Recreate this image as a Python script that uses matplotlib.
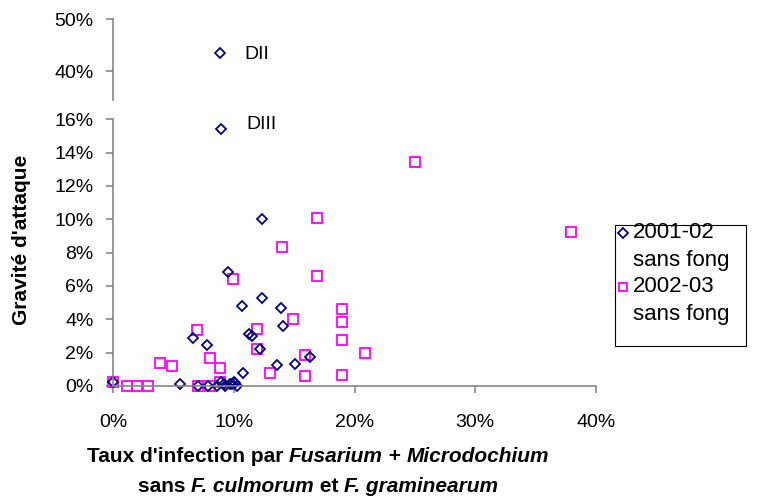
import matplotlib
matplotlib.use("Agg")
import matplotlib.pyplot as plt
from matplotlib.lines import Line2D
from matplotlib.patches import Rectangle
from matplotlib.ticker import PercentFormatter

plt.rcParams["font.family"] = ["Liberation Sans", "DejaVu Sans"]

# 2001-02 sans fong (x = taux d'infection, y = gravite d'attaque), in %
x_2001 = [0.0, 5.55, 6.6, 7.76, 7.0, 7.9, 8.6, 8.95, 8.95, 9.2, 9.3, 9.55, 9.7,
          9.83, 10.0, 10.1, 10.25, 10.7, 10.8, 11.27, 11.55, 12.18, 12.3, 12.3,
          13.6, 13.9, 14.06, 15.1, 16.3, 8.9]
y_2001 = [0.24, 0.1, 2.85, 2.44, 0.0, 0.0, 0.0, 15.4, 0.24, 0.1, 0.0, 6.83, 0.1,
          0.1, 0.24, 0.15, 0.0, 4.8, 0.75, 3.09, 3.0, 2.24, 10.0, 5.3,
          1.24, 4.7, 3.58, 1.34, 1.74, 43.5]

# 2002-03 sans fong
x_2002 = [0.0, 1.2, 2.0, 2.9, 3.9, 4.9, 6.93, 7.0, 8.0, 8.0, 8.9, 8.9, 9.9,
          11.96, 11.96, 12.98, 14.0, 14.9, 15.9, 15.9, 16.93, 16.93, 19.0, 19.0,
          19.0, 19.0, 20.9, 25.0, 37.9]
y_2002 = [0.24, 0.0, 0.0, 0.0, 1.38, 1.18, 3.35, 0.0, 1.7, 0.0, 1.08, 0.24, 6.39,
          3.43, 2.19, 0.78, 8.33, 4.03, 1.88, 0.58, 10.05, 6.59, 4.63, 3.83,
          2.73, 0.68, 2.0, 13.42, 9.23]

# labelled outliers
labels = ["DII", "DIII"]
label_x = [8.9, 8.95]
label_y = [43.5, 15.4]
label_off = [(17.5, -1.0), (18.5, 3.5)]

series_names = ["2001-02", "2002-03"]

W, H = 759, 500
fig = plt.figure(figsize=(W / 100, H / 100), dpi=100)

grey = "#868686"
navy = "#000080"
pink = "#FF00FF"
fs = 14

x0, x1 = 113, 596
ax = fig.add_axes([x0 / W, 1 - 386 / H, (x1 - x0) / W, (386 - 119.3) / H])
axt = fig.add_axes([x0 / W, 1 - 100 / H, (x1 - x0) / W, 81 / H])

low_lim = 16
top_lo = 50 - 81 / 52 * 10

for a in (ax, axt):
    for s in ("top", "right"):
        a.spines[s].set_visible(False)
    a.spines["left"].set_color(grey)
    a.spines["left"].set_linewidth(1.2)
    a.tick_params(axis="y", colors=grey, length=5, width=1.2, pad=9,
                  labelcolor="black", labelsize=fs)
    a.set_xlim(0, 40)

ax.spines["bottom"].set_color(grey)
ax.spines["bottom"].set_linewidth(1.2)
ax.tick_params(axis="x", colors=grey, length=5, width=1.2, pad=15,
               labelcolor="black", labelsize=fs)
ax.set_ylim(0, low_lim)
ax.set_yticks(range(0, 17, 2))
ax.set_xticks([0, 10, 20, 30, 40])
ax.xaxis.set_major_formatter(PercentFormatter(decimals=0))
ax.yaxis.set_major_formatter(PercentFormatter(decimals=0))

axt.spines["bottom"].set_visible(False)
axt.set_xticks([])
axt.set_ylim(top_lo, 50)
axt.set_yticks([40, 50])
axt.yaxis.set_major_formatter(PercentFormatter(decimals=0))
axt.patch.set_visible(False)

sq = dict(marker="s", ms=6.6, mfc="none", mec=pink, mew=1.3, ls="none", clip_on=False)
dm = dict(marker="D", ms=5.0, mfc="none", mec=navy, mew=1.3, ls="none", clip_on=False)

lx = [x for x, y in zip(x_2001, y_2001) if y <= low_lim]
ly = [y for y in y_2001 if y <= low_lim]
hx = [x for x, y in zip(x_2001, y_2001) if y > low_lim]
hy = [y for y in y_2001 if y > low_lim]

ax.plot(x_2002, y_2002, **sq)
ax.plot(lx, ly, **dm)
axt.plot(hx, hy, **dm)

for lab, x, y, off in zip(labels, label_x, label_y, label_off):
    a = axt if y > low_lim else ax
    a.annotate(lab, (x, y), xytext=off, textcoords="offset points",
               fontsize=fs, va="center", ha="left", annotation_clip=False)

fig.text(22 / W, 1 - 240 / H, "Gravité d'attaque", rotation=90, fontsize=15,
         fontweight="bold", ha="center", va="center")

# x label, mixed bold / bold italic
renderer = fig.canvas.get_renderer()


def rich_line(parts, cx, cy, size=15):
    texts = []
    total = 0
    for s, it in parts:
        t = fig.text(0, cy, s, fontsize=size, fontweight="bold",
                     style="italic" if it else "normal", va="center", ha="left")
        w = t.get_window_extent(renderer).width
        texts.append((t, w))
        total += w
    x = cx * W - total / 2
    for t, w in texts:
        t.set_x(x / W)
        x += w


rich_line([("Taux d'infection par ", False), ("Fusarium", True), (" + ", False),
           ("Microdochium", True)], 318 / W, 1 - 457 / H)
rich_line([("sans ", False), ("F. culmorum", True), (" et ", False),
           ("F. graminearum", True)], 318 / W, 1 - 487 / H)

# legend box drawn by hand (two-line entries, marker on first line)
fig.add_artist(Rectangle((615 / W, 1 - 346 / H), 131 / W, 121 / H,
                         transform=fig.transFigure, fill=False,
                         edgecolor="black", linewidth=0.8))
for name, style, row in zip(series_names, (dm, sq), (233, 287)):
    mk = {k: v for k, v in style.items() if k != "clip_on"}
    if mk["marker"] == "s":
        mk["ms"] = 5.5
    else:
        mk["ms"] = 4.6
    fig.add_artist(Line2D([623 / W], [1 - row / H], transform=fig.transFigure, **mk))
    fig.text(633 / W, 1 - row / H, name, fontsize=16, va="center", ha="left")
    fig.text(633 / W, 1 - (row + 27.5) / H, "sans fong", fontsize=16,
             va="center", ha="left")

fig.savefig("out.png", dpi=100)
